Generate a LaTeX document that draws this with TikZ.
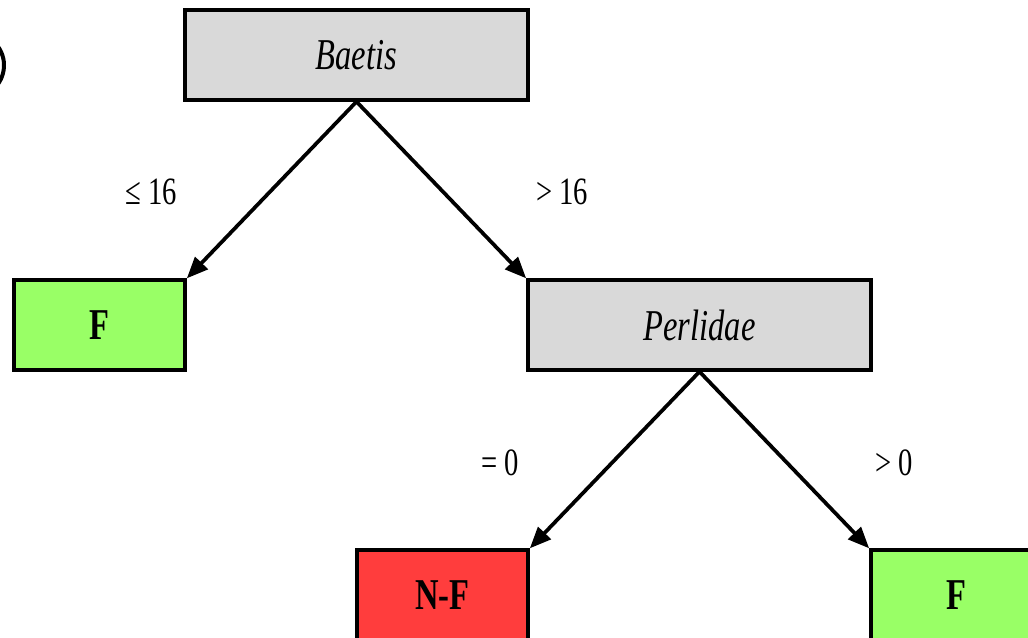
\documentclass[tikz,border=0pt]{standalone}
\usepackage{fontspec}
\setmainfont{Liberation Serif}
\usetikzlibrary{arrows.meta}
\definecolor{splitgray}{RGB}{217,217,217}
\definecolor{leafgreen}{RGB}{153,255,102}
\definecolor{leafred}{RGB}{255,61,61}
\tikzset{
  box/.style={draw=black, line width=3pt, minimum width=257pt, minimum height=67pt,
              inner sep=0pt, font=\fontsize{33}{36}\selectfont},
  split/.style={box, fill=splitgray},
  fleaf/.style={box, fill=leafgreen, minimum width=128pt},
  nfleaf/.style={box, fill=leafred, minimum width=128pt},
  edge/.style={line width=2.8pt, -{Triangle[length=16pt,width=13pt]}},
  cond/.style={font=\fontsize{29}{32}\selectfont, inner sep=0pt}
}
\newcommand{\narrow}[1]{\scalebox{0.74}[1]{#1}}
\begin{document}
\begin{tikzpicture}[x=0.75pt, y=-0.75pt]
  \useasboundingbox (0,0) rectangle (1028,638);
  \clip (0,0) rectangle (1028,638);
  % partial panel mark at the left edge
  \draw[line width=3pt] (-12,93) arc[start angle=60, end angle=-60, radius=32];
  % split nodes
  \node[split]  (baetis)   at (356.5,55)  {\narrow{\textit{Baetis}}};
  \node[split]  (perlidae) at (699.5,325) {\narrow{\textit{Perlidae}}};
  % leaves
  \node[fleaf]  (fleft)  at (99.5,325)  {\narrow{\textbf{F}}};
  \node[nfleaf] (nf)     at (442.5,595) {\narrow{\textbf{N-F}}};
  \node[fleaf]  (fright) at (956.5,595) {\narrow{\textbf{F}}};
  % branches
  \draw[edge] (baetis.south)   -- (fleft.north east);
  \draw[edge] (baetis.south)   -- (perlidae.north west);
  \draw[edge] (perlidae.south) -- (nf.north east);
  \draw[edge] (perlidae.south) -- (fright.north west);
  % branch conditions
  \node[cond] (c1) at (151,192) {\narrow{≤ 16}};
  \node[cond] (c2) at (562,192) {\narrow{> 16}};
  \node[cond] (c3) at (500,463) {\narrow{= 0}};
  \node[cond] (c4) at (894,463) {\narrow{> 0}};
\end{tikzpicture}
\end{document}
